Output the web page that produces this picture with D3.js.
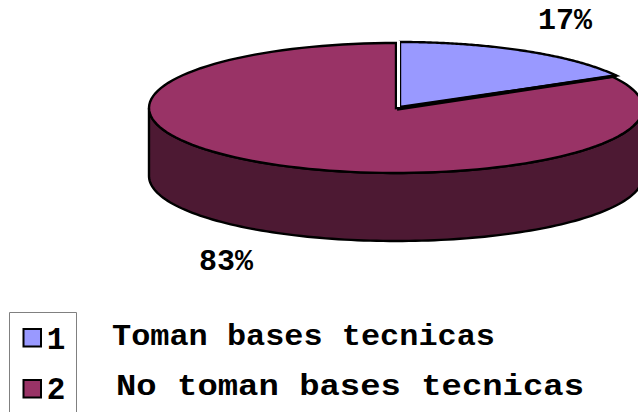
<!DOCTYPE html>
<html><head><meta charset="utf-8">
<script src="https://cdn.jsdelivr.net/npm/d3@7"></script>
<style>html,body{margin:0;background:#fff}svg{display:block}
text{fill:#000;font-family:"Liberation Mono",monospace;font-weight:bold}</style>
</head><body><svg id="c" width="638" height="412"></svg>
<script>
const categories = ["1", "2"];
const values = [17, 83];
const percentLabels = ["17%", "83%"];
const descriptions = ["Toman bases tecnicas", "No toman bases tecnicas"];
const colors = ["#9999ff", "#993366"];
const sideColor = "#4d1933";

const svg = d3.select("#c");
const cx = 396, cy = 108, rx = 247, ry = 65, depth = 68;
const x = d3.scaleLinear().domain([-1, 1]).range([cx - rx, cx + rx]);
const y = d3.scaleLinear().domain([-1, 1]).range([cy - ry, cy + ry]);
const pie = d3.pie().sort(null);
const arcs = pie(values);
const pts = (a0, a1, dy = 0, dx = 0) => d3.range(0, 121).map(i => {
  const a = a0 + (a1 - a0) * i / 120;
  return [x(Math.sin(a)) + dx, y(-Math.cos(a)) + dy];
});
const line = d3.line();

const front = pts(Math.PI / 2, Math.PI * 1.5);
const frontBottom = pts(Math.PI * 1.5, Math.PI / 2, depth);
svg.append("path").attr("d", line(front.concat(frontBottom)) + "Z")
  .attr("fill", sideColor).attr("stroke", "#000").attr("stroke-width", 2.4);

const big = arcs[1];
svg.append("path").attr("d", line([[cx, cy]].concat(pts(big.startAngle, big.endAngle))) + "Z")
  .attr("fill", colors[1]).attr("stroke", "#000").attr("stroke-width", 2.4);

const small = arcs[0];
const ox = 4, oy = -1;
const smallPts = pts(small.startAngle, small.endAngle, oy, ox);
svg.append("path").attr("d", line([[cx + ox, cy + oy]].concat(smallPts)) + "Z")
  .attr("fill", colors[0]).attr("stroke", "#000").attr("stroke-width", 2.4)
  .attr("stroke-miterlimit", 12);
svg.append("path").attr("d", line([[cx + ox - 3, cy + 1], smallPts[120]]))
  .attr("stroke", "#000").attr("stroke-width", 3.6).attr("fill", "none");
svg.append("line").attr("x1", cx + 2.5).attr("x2", cx + 2.5).attr("y1", cy - 1).attr("y2", cy - ry - 2)
  .attr("stroke", "#fff").attr("stroke-width", 3);

const pct = [[565, 29], [226, 270]];
percentLabels.forEach((t, i) => {
  svg.append("text").attr("x", pct[i][0]).attr("y", pct[i][1])
    .attr("text-anchor", "middle").attr("font-size", 29)
    .attr("textLength", 54).attr("lengthAdjust", "spacingAndGlyphs").text(t);
});

svg.append("path").attr("d", "M76.5,412V312.5H9.5V412").attr("fill", "none")
  .attr("stroke", "#808080").attr("stroke-width", 1);
const swatchY = [329, 380];
const digitY = [349, 399];
categories.forEach((c, i) => {
  svg.append("rect").attr("x", 23.5).attr("y", swatchY[i]).attr("width", 17.5).attr("height", 17.5)
    .attr("fill", colors[i]).attr("stroke", "#000").attr("stroke-width", 2);
  svg.append("text").attr("x", 56).attr("y", digitY[i])
    .attr("text-anchor", "middle").attr("font-size", 31).text(c);
});

const textX = [112, 116], textY = [345, 395], textW = [383, 468];
descriptions.forEach((t, i) => {
  svg.append("text").attr("x", textX[i]).attr("y", textY[i]).attr("font-size", 30)
    .attr("textLength", textW[i]).attr("lengthAdjust", "spacingAndGlyphs").text(t);
});
</script></body></html>
